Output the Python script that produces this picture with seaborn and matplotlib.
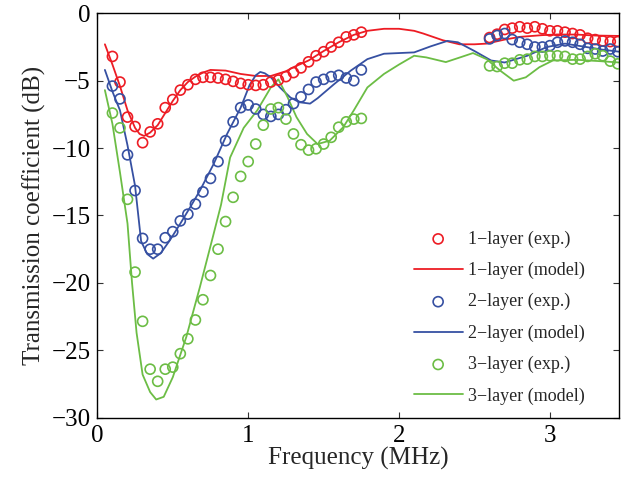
import matplotlib as mpl
mpl.use('Agg')
import matplotlib.pyplot as plt
import seaborn as sns
import pandas as pd

# measured points (exp.), two frequency bands
freq_lo = [0.10, 0.15, 0.20, 0.25, 0.30, 0.35, 0.40, 0.45, 0.50, 0.55, 0.60, 0.65,
           0.70, 0.75, 0.80, 0.85, 0.90, 0.95, 1.00, 1.05, 1.10, 1.15, 1.20, 1.25,
           1.30, 1.35, 1.40, 1.45, 1.50, 1.55, 1.60, 1.65, 1.70, 1.75]
freq_hi = [2.60, 2.65, 2.70, 2.75, 2.80, 2.85, 2.90, 2.95, 3.00, 3.05, 3.10, 3.15,
           3.20, 3.25, 3.30, 3.35, 3.40, 3.45]

exp1_lo = [-3.2, -5.1, -7.7, -8.4, -9.6, -8.8, -8.2, -7.0, -6.4, -5.7, -5.3, -4.9,
           -4.75, -4.75, -4.8, -4.9, -5.05, -5.2, -5.3, -5.35, -5.3, -5.1, -4.95, -4.7,
           -4.4, -4.05, -3.6, -3.15, -2.85, -2.5, -2.15, -1.75, -1.6, -1.4]
exp1_hi = [-1.8, -1.55, -1.2, -1.1, -1.0, -1.1, -1.0, -1.15, -1.3, -1.3, -1.4, -1.5,
           -1.6, -1.85, -1.95, -2.05, -2.1, -2.1]

exp2_lo = [-5.4, -6.35, -10.5, -13.15, -16.7, -17.5, -17.5, -16.65, -16.2, -15.4, -14.9, -14.15,
           -13.25, -12.25, -11.0, -9.45, -8.05, -7.0, -6.8, -7.1, -7.5, -7.65, -7.5, -7.15,
           -6.7, -6.2, -5.65, -5.1, -4.9, -4.7, -4.6, -4.8, -5.0, -4.2]
exp2_hi = [-1.9, -1.65, -1.5, -1.95, -2.15, -2.3, -2.5, -2.5, -2.4, -2.15, -2.05, -2.15,
           -2.3, -2.6, -2.65, -2.8, -2.65, -2.85]

exp3_lo = [-7.4, -8.5, -13.8, -19.2, -22.85, -26.4, -27.3, -26.4, -26.25, -25.25, -24.15, -22.75,
           -21.25, -19.45, -17.5, -15.45, -13.65, -12.1, -11.0, -9.7, -8.3, -7.1, -7.0, -7.85,
           -8.95, -9.75, -10.15, -10.05, -9.7, -9.2, -8.45, -8.05, -7.85, -7.8]
exp3_hi = [-3.9, -3.95, -3.7, -3.7, -3.45, -3.4, -3.2, -3.2, -3.15, -3.15, -3.2, -3.4,
           -3.4, -3.2, -3.0, -3.15, -3.55, -3.75]

# model curves
mod1_f = [0.05, 0.10, 0.15, 0.20, 0.25, 0.28, 0.31, 0.35, 0.40, 0.45, 0.50, 0.55, 0.60,
          0.65, 0.70, 0.75, 0.85, 0.95, 1.05, 1.15, 1.25, 1.30, 1.40, 1.50, 1.60, 1.70,
          1.79, 1.90, 2.00, 2.10, 2.16, 2.29, 2.40, 2.50, 2.58, 2.70, 2.80, 2.95, 3.05,
          3.18, 3.30, 3.46]
mod1_y = [-2.3, -3.8, -5.4, -7.2, -8.5, -8.95, -9.1, -8.85, -8.3, -7.4, -6.5, -5.7, -5.1,
          -4.7, -4.4, -4.2, -4.25, -4.5, -4.65, -4.65, -4.3, -4.0, -3.5, -2.8, -2.15, -1.6,
          -1.3, -1.15, -1.15, -1.3, -1.5, -2.0, -2.3, -2.3, -2.25, -1.95, -1.75, -1.62, -1.57,
          -1.58, -1.65, -1.68]

mod2_f = [0.05, 0.10, 0.15, 0.20, 0.25, 0.29, 0.33, 0.37, 0.42, 0.48, 0.55, 0.62, 0.68,
          0.77, 0.86, 0.95, 1.01, 1.05, 1.08, 1.11, 1.15, 1.21, 1.28, 1.34, 1.41, 1.46,
          1.57, 1.68, 1.79, 1.90, 2.00, 2.10, 2.21, 2.32, 2.39, 2.50, 2.61, 2.70, 2.85,
          2.98, 3.10, 3.24, 3.35, 3.46]
mod2_y = [-4.2, -5.8, -7.2, -9.8, -12.8, -16.9, -17.85, -18.2, -17.8, -16.85, -15.6, -14.3, -13.15,
          -11.2, -8.95, -7.0, -5.3, -4.6, -4.35, -4.45, -4.75, -5.5, -6.25, -6.6, -6.7, -6.3,
          -5.25, -4.25, -3.4, -3.0, -2.95, -2.9, -2.45, -2.05, -2.15, -2.8, -3.5, -3.65, -3.15,
          -2.5, -2.25, -2.5, -2.7, -2.85]

mod3_f = [0.05, 0.10, 0.15, 0.20, 0.23, 0.26, 0.30, 0.35, 0.39, 0.44, 0.50, 0.59, 0.68,
          0.77, 0.82, 0.88, 0.97, 1.06, 1.15, 1.20, 1.26, 1.32, 1.39, 1.46, 1.54, 1.63,
          1.70, 1.79, 1.90, 2.00, 2.10, 2.18, 2.31, 2.41, 2.49, 2.58, 2.67, 2.76, 2.84,
          2.93, 3.02, 3.18, 3.33, 3.46]
mod3_y = [-5.7, -8.2, -11.8, -15.6, -20.0, -23.7, -26.8, -28.1, -28.65, -28.45, -27.0, -24.0, -20.3,
          -16.4, -14.2, -10.7, -8.5, -7.2, -5.5, -4.9, -6.2, -7.7, -8.95, -9.7, -9.45, -8.45,
          -7.2, -5.5, -4.5, -3.8, -3.15, -3.27, -3.62, -3.25, -2.95, -3.4, -4.25, -5.0, -4.75,
          -4.0, -3.5, -3.45, -3.55, -3.65]

labels = ['1\u2212layer', '2\u2212layer', '3\u2212layer']
colors = ['#ED1C24', '#3650A2', '#6CBD45']

exp_sets = [(exp1_lo, exp1_hi), (exp2_lo, exp2_hi), (exp3_lo, exp3_hi)]
mod_sets = [(mod1_f, mod1_y), (mod2_f, mod2_y), (mod3_f, mod3_y)]

sns.set_style('ticks')
plt.rcParams['font.family'] = ['Liberation Serif', 'DejaVu Serif']

fig, ax = plt.subplots(figsize=(6.24, 4.87), dpi=100)
fig.subplots_adjust(left=0.156, right=0.9925, top=0.9727, bottom=0.1423)

handles = []
for lab, c, (lo, hi), (mf, my) in zip(labels, colors, exp_sets, mod_sets):
    exp_df = pd.DataFrame({'f': freq_lo + freq_hi, 'T': lo + hi})
    sns.scatterplot(data=exp_df, x='f', y='T', ax=ax, marker='o', s=52,
                    facecolors='none', edgecolor=c, linewidth=1.2, zorder=3)
    h_exp = ax.collections[-1]
    h_exp.set_facecolor('none')
    h_exp.set_edgecolor(c)
    mod_df = pd.DataFrame({'f': mf, 'T': my})
    sns.lineplot(data=mod_df, x='f', y='T', ax=ax, color=c, linewidth=1.3,
                 estimator=None, sort=True, zorder=2)
    h_mod = ax.lines[-1]
    h_exp.set_label(lab + ' (exp.)')
    h_mod.set_label(lab + ' (model)')
    handles += [h_exp, h_mod]

ax.set_xlim(0, 3.46)
ax.set_ylim(-30, 0)
ax.set_xticks([0, 1, 2, 3])
ax.set_yticks([-30, -25, -20, -15, -10, -5, 0])
ax.tick_params(direction='in', top=True, right=True, length=4, width=0.8,
               labelsize=18, pad=5, colors='#333333', labelcolor='black')
for sp in ax.spines.values():
    sp.set_linewidth(1.0)
    sp.set_color('black')
ax.set_xlabel('Frequency (MHz)', fontsize=18, labelpad=0)
ax.set_ylabel('Transmission coefficient (dB)', fontsize=18, labelpad=4)

ax.legend(handles=handles, loc='lower right', frameon=False, fontsize=13,
          handlelength=2.7, handletextpad=0.3, labelspacing=0.78,
          scatterpoints=1, bbox_to_anchor=(0.965, -0.008))

fig.savefig('out.png', dpi=100)
